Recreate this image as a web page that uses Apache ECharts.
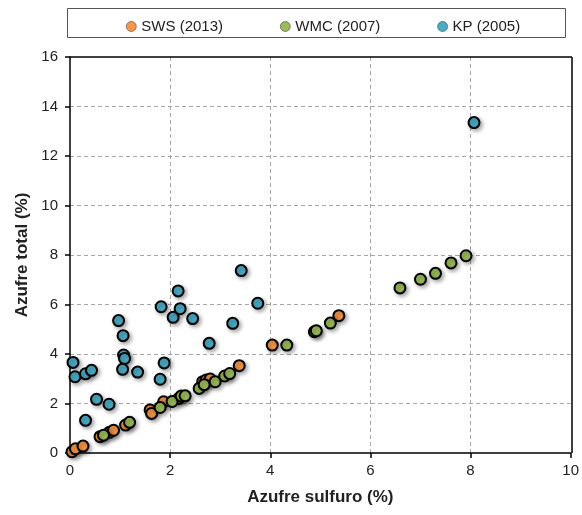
<!DOCTYPE html>
<html>
<head>
<meta charset="utf-8">
<script src="https://cdn.jsdelivr.net/npm/echarts@6/dist/echarts.min.js"></script>
<style>html,body{margin:0;padding:0;background:#fff}#c{width:582px;height:515px}</style>
</head>
<body>
<div id="c"></div>
<script>
var seriesNames = ['SWS (2013)', 'WMC (2007)', 'KP (2005)'];
var sws = [[0.04,0.05],[0.11,0.17],[0.26,0.28],[0.6,0.66],[0.79,0.84],[0.87,0.92],[1.11,1.13],[1.6,1.74],[1.63,1.6],[1.87,2.07],[2.17,2.2],[2.65,2.88],[2.72,2.95],[2.8,2.99],[3.38,3.53],[4.04,4.36],[5.37,5.55]];
var wmc = [[0.67,0.72],[1.19,1.24],[1.8,1.84],[2.04,2.08],[2.22,2.3],[2.3,2.31],[2.58,2.61],[2.68,2.76],[2.9,2.88],[3.09,3.11],[3.19,3.21],[4.33,4.36],[4.88,4.9],[4.92,4.94],[5.2,5.25],[6.59,6.67],[7.0,7.02],[7.3,7.26],[7.61,7.68],[7.91,7.97]];
var kp = [[0.06,3.66],[0.1,3.08],[0.31,3.2],[0.43,3.34],[0.53,2.17],[0.78,1.97],[0.31,1.32],[0.97,5.35],[1.06,4.74],[1.07,3.96],[1.09,3.82],[1.05,3.38],[1.35,3.27],[1.8,2.98],[1.88,3.64],[1.82,5.91],[2.06,5.48],[2.16,6.55],[2.2,5.83],[2.45,5.43],[2.78,4.43],[3.25,5.24],[3.42,7.37],[3.75,6.05],[8.07,13.35]];
var colors = ['#F79646', '#9BBB59', '#4BACC6'];
var xName = 'Azufre sulfuro (%)';
var yName = 'Azufre total (%)';

var font = 'Liberation Sans, Arial, sans-serif';
function mk(name, data, color) {
  return {
    name: name, type: 'scatter', data: data, symbolSize: 11, z: 3,
    itemStyle: { color: color, borderColor: '#000', borderWidth: 2, opacity: 1,
      shadowBlur: 4, shadowOffsetX: 2, shadowOffsetY: 2, shadowColor: 'rgba(0,0,0,0.35)' },
    emphasis: { disabled: true }
  };
}
var chart = echarts.init(document.getElementById('c'), null, { renderer: 'canvas' });
chart.setOption({
  animation: false,
  color: colors,
  textStyle: { fontFamily: font },
  graphic: [
    { type: 'rect', shape: { x: 67.5, y: 8.5, width: 498, height: 29 },
      style: { fill: 'none', stroke: '#555', lineWidth: 1 } },
    { type: 'line', z: 10, shape: { x1: 70, y1: 57, x2: 572, y2: 57 }, style: { stroke: '#000', lineWidth: 1.5 } },
    { type: 'line', z: 10, shape: { x1: 572, y1: 57, x2: 572, y2: 453 }, style: { stroke: '#000', lineWidth: 1.5 } }
  ],
  legend: {
    top: 14, left: 121, itemGap: 57, itemWidth: 10, itemHeight: 10,
    icon: 'circle',
    textStyle: { fontSize: 15, color: '#222', fontFamily: font },
    data: seriesNames.map(function (n, i) { return { name: n, itemStyle: { color: colors[i], opacity: 1, borderColor: '#444', borderWidth: 0.6, shadowBlur: 0, shadowOffsetX: 0, shadowOffsetY: 0, shadowColor: 'transparent' } }; })
  },
  grid: { left: 70, right: 10, top: 57, bottom: 62, show: false },
  xAxis: {
    type: 'value', min: 0, max: 10, interval: 2,
    name: xName, nameLocation: 'middle', nameGap: 36,
    nameTextStyle: { fontSize: 17, fontWeight: 'bold', color: '#222', fontFamily: font },
    axisLine: { show: true, lineStyle: { color: '#000', width: 1.5 } },
    axisTick: { show: true, length: 5, lineStyle: { color: '#000', width: 1.5 } },
    axisLabel: { fontSize: 15, color: '#222', margin: 10 },
    splitLine: { show: true, showMinLine: false, showMaxLine: false, lineStyle: { color: '#A6A6A6', type: [4, 3], width: 1 } }
  },
  yAxis: {
    type: 'value', min: 0, max: 16, interval: 2,
    name: yName, nameLocation: 'middle', nameGap: 39, nameRotate: 90,
    nameTextStyle: { fontSize: 17, fontWeight: 'bold', color: '#222', fontFamily: font },
    axisLine: { show: true, lineStyle: { color: '#000', width: 1.5 } },
    axisTick: { show: true, length: 5, lineStyle: { color: '#000', width: 1.5 } },
    axisLabel: { fontSize: 15, color: '#222', margin: 12 },
    splitLine: { show: true, showMinLine: false, showMaxLine: false, lineStyle: { color: '#A6A6A6', type: [4, 3], width: 1 } }
  },
  series: [mk(seriesNames[0], sws, colors[0]), mk(seriesNames[1], wmc, colors[1]), mk(seriesNames[2], kp, colors[2])]
});
</script>
</body>
</html>
